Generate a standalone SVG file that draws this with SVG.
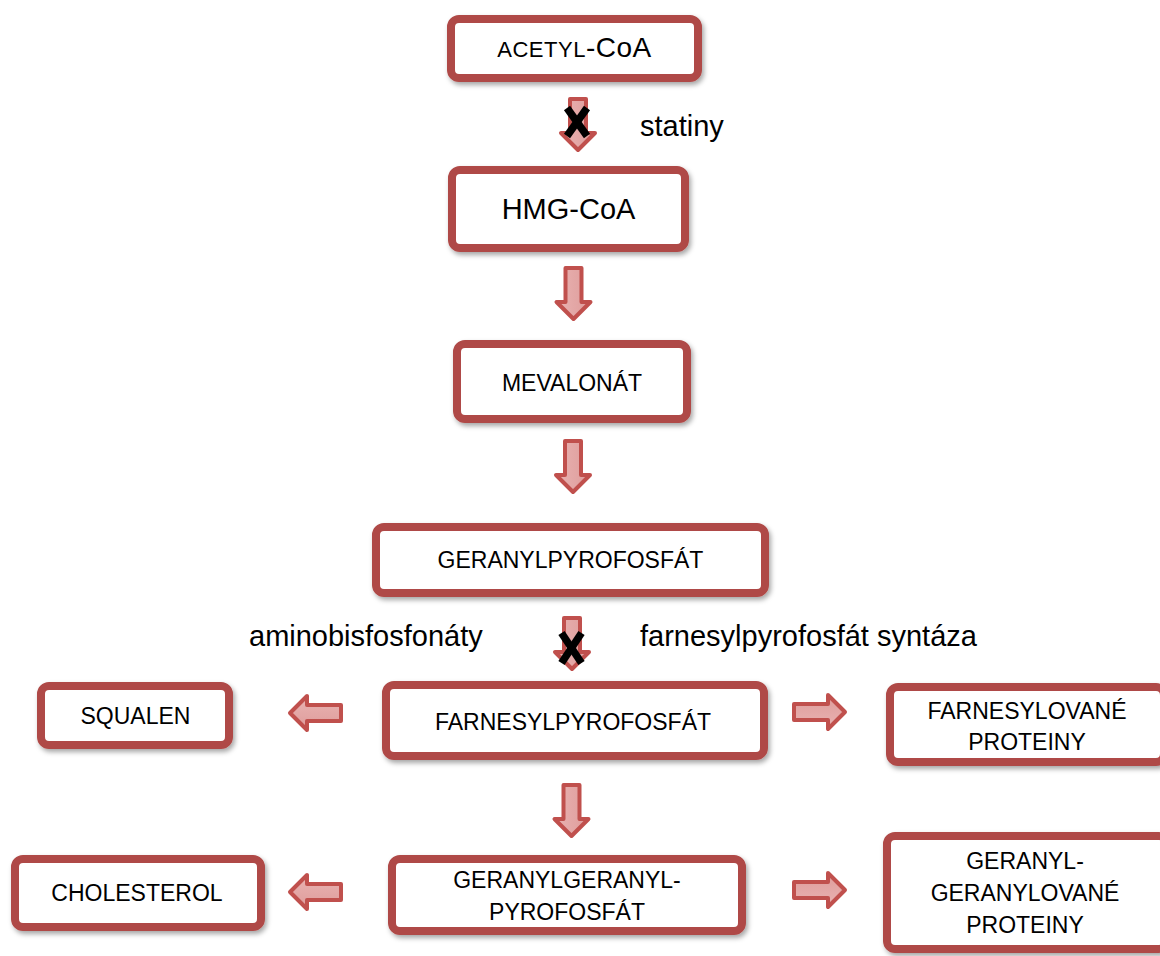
<svg xmlns="http://www.w3.org/2000/svg" width="1160" height="956" viewBox="0 0 1160 956">
<defs>
<filter id="sh" x="-10%" y="-20%" width="125%" height="150%">
<feDropShadow dx="2" dy="3" stdDeviation="2.5" flood-color="#000" flood-opacity="0.35"/>
</filter>
<linearGradient id="ag" x1="0" y1="0" x2="1" y2="0">
<stop offset="0" stop-color="#E9B3B2"/>
<stop offset="1" stop-color="#DE9C9B"/>
</linearGradient>
<path id="arr" d="M-8,0 H8 V34 H17 L0,51 L-17,34 H-8 Z"/>
</defs>
<style>
.box{fill:#fff;stroke:#AF4A47;stroke-width:8;filter:url(#sh)}
.t{font-family:"Liberation Sans",Arial,sans-serif;font-size:23px;fill:#000;text-anchor:middle}
.lab{font-family:"Liberation Sans",Arial,sans-serif;font-size:29px;fill:#000}
.a{fill:url(#ag);stroke:#C0504D;stroke-width:4;stroke-linejoin:round}
.x{stroke:#000;stroke-width:7.5;stroke-linecap:butt}
.sm{font-size:22px;letter-spacing:0.5px}
.big{font-size:28px;letter-spacing:0.5px}
</style>
<rect width="1160" height="956" fill="#fff"/>

<g id="connectors">
<use href="#arr" class="a" transform="translate(578,99)"/>
<use href="#arr" class="a" transform="translate(573.5,268)"/>
<use href="#arr" class="a" transform="translate(573,441)"/>
<use href="#arr" class="a" transform="translate(572,618)"/>
<use href="#arr" class="a" transform="translate(571.5,785)"/>
<use href="#arr" class="a" transform="translate(341,713) rotate(90)"/>
<use href="#arr" class="a" transform="translate(794,712) rotate(-90)"/>
<use href="#arr" class="a" transform="translate(341,892) rotate(90)"/>
<use href="#arr" class="a" transform="translate(794,890) rotate(-90)"/>
<g id="block1" transform="translate(577,122)">
<line class="x" x1="-10" y1="-14" x2="10" y2="14"/>
<line class="x" x1="10" y1="-14" x2="-10" y2="14"/>
</g>
<g id="block2" transform="translate(571.5,648)">
<line class="x" x1="-10" y1="-15" x2="10" y2="15"/>
<line class="x" x1="10" y1="-15" x2="-10" y2="15"/>
</g>
</g>

<g id="labels">
<text class="lab" x="640" y="136">statiny</text>
<text class="lab" x="249" y="646">aminobisfosfonáty</text>
<text class="lab" x="640" y="646">farnesylpyrofosfát syntáza</text>
</g>

<g id="acetylcoa">
<rect class="box" x="451" y="19" width="247" height="59" rx="8"/>
<text class="t" x="574.5" y="57"><tspan class="sm">ACETYL</tspan><tspan class="big">-CoA</tspan></text>
</g>
<g id="hmgcoa">
<rect class="box" x="452" y="170" width="233" height="78" rx="8"/>
<text class="t" x="568.5" y="219" style="font-size:29px">HMG-CoA</text>
</g>
<g id="mevalonat">
<rect class="box" x="457" y="344" width="230" height="75" rx="8"/>
<text class="t" x="572" y="391">MEVALONÁT</text>
</g>
<g id="geranylpp">
<rect class="box" x="376" y="527" width="389" height="66" rx="8"/>
<text class="t" x="570.5" y="568">GERANYLPYROFOSFÁT</text>
</g>
<g id="squalen">
<rect class="box" x="41" y="686" width="188" height="59" rx="8"/>
<text class="t" x="135.5" y="724">SQUALEN</text>
</g>
<g id="farnesylpp">
<rect class="box" x="386" y="685" width="378" height="71" rx="8"/>
<text class="t" x="573" y="730">FARNESYLPYROFOSFÁT</text>
</g>
<g id="farnesylovane">
<rect class="box" x="890" y="687" width="274" height="75" rx="8"/>
<text class="t" x="1027" y="719">FARNESYLOVANÉ</text>
<text class="t" x="1027" y="750">PROTEINY</text>
</g>
<g id="cholesterol">
<rect class="box" x="15" y="859" width="246" height="68" rx="8"/>
<text class="t" x="137" y="901">CHOLESTEROL</text>
</g>
<g id="ggpp">
<rect class="box" x="392" y="859" width="350" height="72" rx="8"/>
<text class="t" x="567" y="888">GERANYLGERANYL-</text>
<text class="t" x="567" y="920">PYROFOSFÁT</text>
</g>
<g id="ggproteiny">
<rect class="box" x="887" y="836" width="280" height="113" rx="8"/>
<text class="t" x="1025" y="869">GERANYL-</text>
<text class="t" x="1025" y="901">GERANYLOVANÉ</text>
<text class="t" x="1025" y="933">PROTEINY</text>
</g>
</svg>
